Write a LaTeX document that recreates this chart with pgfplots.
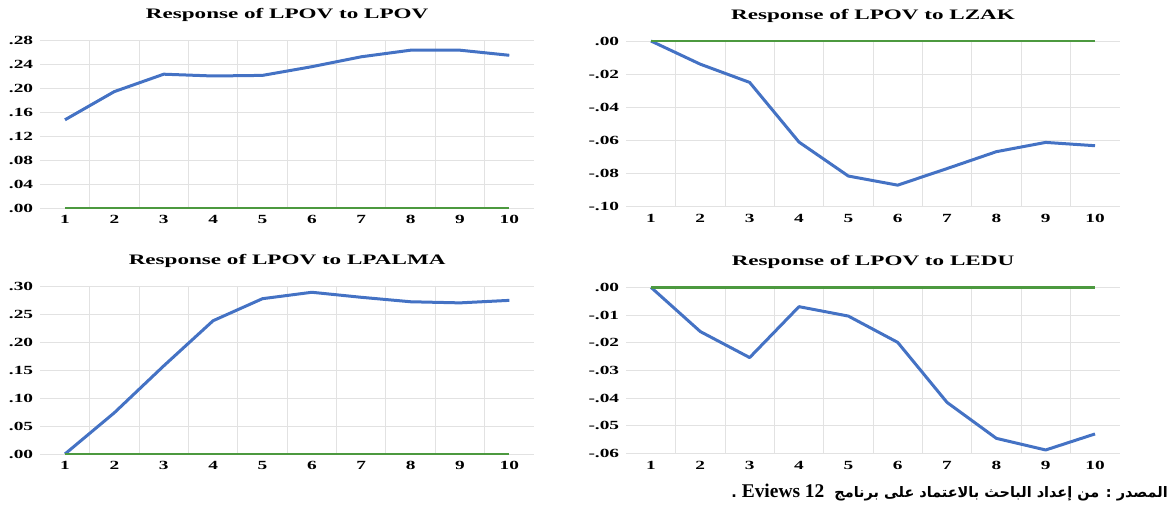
\documentclass[border=0pt]{standalone}
\usepackage{fontspec}
\setmainfont{Liberation Serif}
\newfontfamily\ticktf[FakeStretch=1.55]{Liberation Serif}
\newfontfamily\titletf[FakeStretch=1.6]{Liberation Serif}
\newfontfamily\arabicfont[Script=Arabic]{DejaVu Sans}
\TeXXeTstate=1
\usepackage{pgfplots}
\pgfplotsset{compat=1.18}
\definecolor{irfblue}{HTML}{4472C4}
\definecolor{zerogreen}{HTML}{4C993F}
\definecolor{gridgray}{HTML}{E2E2E2}

\newcommand\tickfont{\ticktf\fontsize{12.5}{14}\selectfont\bfseries}
\newcommand\titlefont{\titletf\fontsize{14.5}{16}\selectfont\bfseries}

\pgfplotsset{
  irf/.style={
    scale only axis, anchor=south west,
    xmin=0.5, xmax=10.5,
    xtick={1,...,10}, xticklabels={1,2,3,4,5,6,7,8,9,10},
    minor xtick={1.5,2.5,...,9.5},
    xminorgrids, ymajorgrids,
    scaled ticks=false,
    major grid style={draw=gridgray, line width=0.9bp},
    minor grid style={draw=gridgray, line width=0.9bp},
    axis line style={draw=none},
    major tick length=0pt, minor tick length=0pt,
    clip=false,
    ticklabel style={font=\tickfont},
    yticklabel style={anchor=east, inner sep=0pt, xshift=-7bp},
    xticklabel style={anchor=base, inner sep=0pt, yshift=-16bp},
    title style={font=\titlefont, anchor=base, at={(0.5,1)}, yshift=16bp},
  },
  irfline/.style={irfblue, line width=3bp, line join=round},
  zeroline/.style={zerogreen, line width=2.6bp},
}

\begin{document}
\begin{tikzpicture}
\useasboundingbox (0,0) rectangle (1171bp,508bp);

% top left
\begin{axis}[irf, at={(40.3bp,300bp)}, width=493.7bp, height=168bp,
    ymin=0, ymax=0.28, ytick={0,0.04,...,0.28},
    yticklabels={.00,.04,.08,.12,.16,.20,.24,.28},
    title={Response of LPOV to LPOV}]
\addplot[irfline] coordinates {(1,0.147) (2,0.194) (3,0.223) (4,0.220) (5,0.221)
  (6,0.2355) (7,0.252) (8,0.263) (9,0.263) (10,0.2545)};
\addplot[zeroline] coordinates {(1,0) (10,0)};
\end{axis}

% top right
\begin{axis}[irf, at={(626.3bp,301.3bp)}, width=493.4bp, height=165.7bp,
    ymin=-0.10, ymax=0, ytick={-0.10,-0.08,...,0},
    yticklabels={-.10,-.08,-.06,-.04,-.02,.00},
    title={Response of LPOV to LZAK}]
\addplot[irfline] coordinates {(1,0) (2,-0.014) (3,-0.025) (4,-0.061) (5,-0.0815)
  (6,-0.087) (7,-0.077) (8,-0.0668) (9,-0.0612) (10,-0.0632)};
\addplot[zeroline] coordinates {(1,0) (10,0)};
\end{axis}

% bottom left
\begin{axis}[irf, at={(40.3bp,54bp)}, width=493.7bp, height=167.3bp,
    ymin=0, ymax=0.30, ytick={0,0.05,...,0.30},
    yticklabels={.00,.05,.10,.15,.20,.25,.30},
    title={Response of LPOV to LPALMA}]
\addplot[irfline] coordinates {(1,0) (2,0.074) (3,0.158) (4,0.239) (5,0.2785)
  (6,0.290) (7,0.281) (8,0.273) (9,0.271) (10,0.2755)};
\addplot[zeroline, line width=2bp] coordinates {(1,0) (10,0)};
\end{axis}

% bottom right
\begin{axis}[irf, at={(626.3bp,54.7bp)}, width=493.4bp, height=166bp,
    ymin=-0.06, ymax=0, ytick={-0.06,-0.05,...,0},
    yticklabels={-.06,-.05,-.04,-.03,-.02,-.01,.00},
    title={Response of LPOV to LEDU}]
\addplot[irfline] coordinates {(1,0) (2,-0.016) (3,-0.0254) (4,-0.007) (5,-0.0104)
  (6,-0.0199) (7,-0.0416) (8,-0.0546) (9,-0.0588) (10,-0.053)};
\addplot[zeroline] coordinates {(1,0) (10,0)};
\end{axis}

\node[anchor=base east, inner sep=0pt] at (1168bp,11bp)
  {\arabicfont\fontsize{14.5}{18}\selectfont\bfseries\beginR المصدر : من إعداد الباحث بالاعتماد على برنامج\ \ {\rmfamily\fontsize{19.5}{22}\selectfont\bfseries\beginL Eviews 12\endL} .\endR};
\end{tikzpicture}
\end{document}
